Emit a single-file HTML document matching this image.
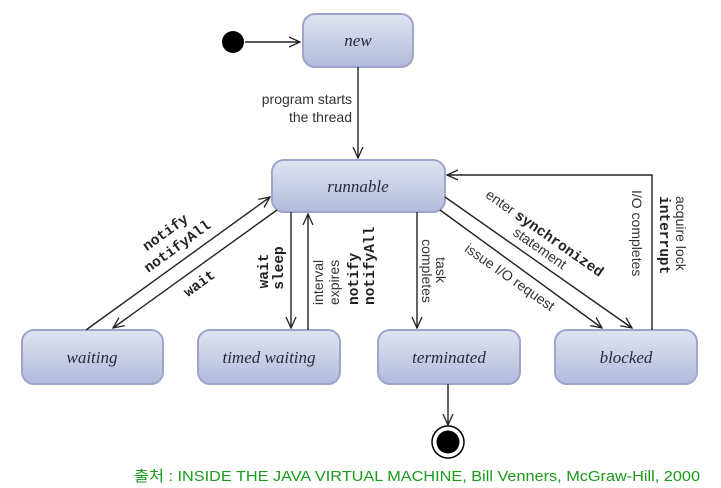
<!DOCTYPE html>
<html><head><meta charset="utf-8"><style>
html,body{margin:0;padding:0;background:#fff;width:721px;height:488px;overflow:hidden}
svg{display:block}
.l{font-family:"Liberation Sans",sans-serif;font-size:14px;fill:#333}
.m{font-family:"Liberation Mono",monospace;font-size:14.5px;font-weight:bold;fill:#222}
.n{font-family:"Liberation Serif",serif;font-style:italic;font-size:17px;fill:#2a2a3a}
</style></head><body>
<svg width="721" height="488" viewBox="0 0 721 488">
<defs>
<linearGradient id="g" x1="0" y1="0" x2="0" y2="1">
<stop offset="0" stop-color="#e0e4f2"/><stop offset="0.5" stop-color="#c9cfe6"/><stop offset="1" stop-color="#b3badb"/>
</linearGradient>
<marker id="a" viewBox="0 0 12 12" refX="11" refY="6" markerWidth="12" markerHeight="12" markerUnits="userSpaceOnUse" orient="auto">
<path d="M0,1 L11,6 L0,11" fill="none" stroke="#222" stroke-width="1.3"/>
</marker>
</defs>
<g stroke="#9da5cc" stroke-width="2" fill="url(#g)">
<rect x="303" y="14" width="110" height="53" rx="12"/>
<rect x="272" y="160" width="173" height="52" rx="12"/>
<rect x="22" y="330" width="141" height="54" rx="12"/>
<rect x="198" y="330" width="142" height="54" rx="12"/>
<rect x="378" y="330" width="142" height="54" rx="12"/>
<rect x="555" y="330" width="142" height="54" rx="12"/>
</g>
<g text-anchor="middle" class="n">
<text x="358" y="46">new</text>
<text x="358" y="192">runnable</text>
<text x="92" y="363">waiting</text>
<text x="269" y="363">timed waiting</text>
<text x="449" y="363">terminated</text>
<text x="626" y="363">blocked</text>
</g>
<circle cx="233" cy="42" r="11" fill="#000"/>
<circle cx="448" cy="442" r="16" fill="#fff" stroke="#000" stroke-width="1.5"/>
<circle cx="448" cy="442" r="11.5" fill="#000"/>
<g stroke="#222" stroke-width="1.4" fill="none" marker-end="url(#a)">
<line x1="245" y1="42" x2="300" y2="42"/>
<line x1="358" y1="67" x2="358" y2="158"/>
<line x1="86" y1="330" x2="270" y2="197"/>
<line x1="277" y1="210" x2="113" y2="328"/>
<line x1="291" y1="212" x2="291" y2="328"/>
<line x1="308" y1="330" x2="308" y2="214"/>
<line x1="417" y1="212" x2="417" y2="328"/>
<line x1="445" y1="197" x2="632" y2="328"/>
<line x1="440" y1="210" x2="602" y2="328"/>
<polyline points="652,330 652,175 447,175"/>
<line x1="448" y1="384" x2="448" y2="425"/>
</g>
<g class="l" text-anchor="end">
<text x="352" y="104">program starts</text>
<text x="352" y="122">the thread</text>
</g>
<g text-anchor="middle">
<text class="m" transform="translate(165,232) rotate(-36)" y="5">notify</text>
<text class="m" transform="translate(177,246) rotate(-36)" y="5">notifyAll</text>
<text class="m" transform="translate(199,283) rotate(-36)" y="5">wait</text>
<text class="m" transform="translate(263,271) rotate(-90)" y="5">wait</text>
<text class="m" transform="translate(278,268) rotate(-90)" y="5">sleep</text>
<text class="l" transform="translate(542,237) rotate(35)" y="0">enter <tspan class="m">synchronized</tspan></text>
<text class="l" transform="translate(540,248) rotate(35)" y="5">statement</text>
<text class="l" transform="translate(510,277) rotate(35)" y="5">issue I/O request</text>
<text class="l" transform="translate(441,270) rotate(90)" y="5">task</text>
<text class="l" transform="translate(427,271) rotate(90)" y="5">completes</text>
</g>
<g text-anchor="start">
<text class="l" transform="translate(323,305) rotate(-90)">interval</text>
<text class="l" transform="translate(339,305) rotate(-90)">expires</text>
<text class="m" transform="translate(358,305) rotate(-90)">notify</text>
<text class="m" transform="translate(374,305) rotate(-90)">notifyAll</text>
<text class="l" transform="translate(676,196) rotate(90)">acquire lock</text>
<text class="m" transform="translate(660,196) rotate(90)">interrupt</text>
<text class="l" transform="translate(632,190) rotate(90)">I/O completes</text>
</g>
<text x="134" y="481" fill="#1a9a1a" font-family="'Liberation Sans','Noto Sans CJK KR',sans-serif" font-size="15" textLength="566" lengthAdjust="spacingAndGlyphs">출처 : INSIDE THE JAVA VIRTUAL MACHINE, Bill Venners, McGraw-Hill, 2000</text>
</svg>
</body></html>
